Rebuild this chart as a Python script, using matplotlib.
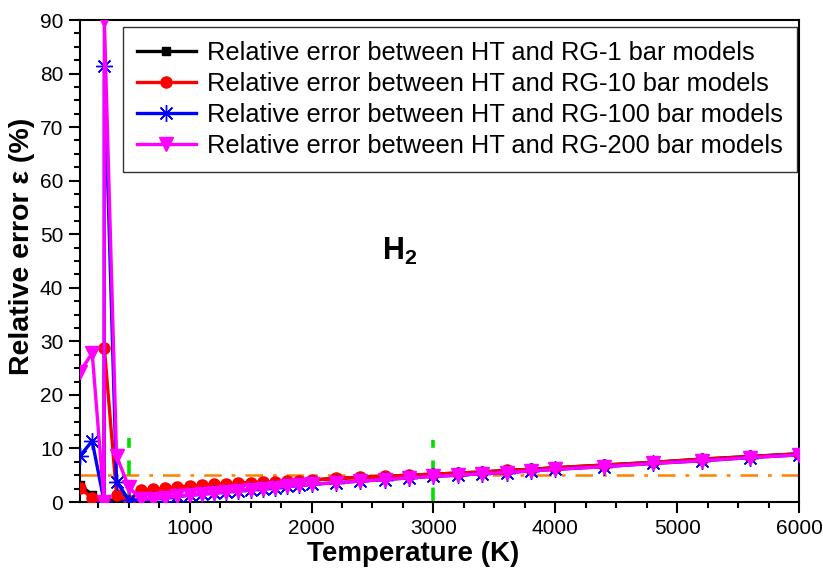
import matplotlib
matplotlib.use("Agg")
import matplotlib.pyplot as plt
from matplotlib.ticker import MultipleLocator, FixedLocator

plt.rcParams['font.family'] = ['Liberation Sans', 'DejaVu Sans']
plt.rcParams['mathtext.fontset'] = 'custom'
plt.rcParams['mathtext.rm'] = 'Liberation Sans'
plt.rcParams['mathtext.bf'] = 'Liberation Sans:bold'

# ---- data ----
temperature = [100, 200, 298.15, 300, 400, 500, 600, 700, 800, 900, 1000, 1100, 1200,
               1300, 1400, 1500, 1600, 1700, 1800, 1900, 2000, 2200, 2400, 2600, 2800,
               3000, 3200, 3400, 3600, 3800, 4000, 4400, 4800, 5200, 5600, 6000]

err_rg1 = [3.2, 1.3, 0.0, 0.2, 0.5, 0.3, 2.1, 2.3, 2.5, 2.7, 2.9, 3.1, 3.2, 3.4, 3.5,
           3.6, 3.7, 3.8, 3.9, 4.0, 4.1, 4.4, 4.6, 4.8, 5.0, 5.2, 5.4, 5.6, 5.9, 6.1,
           6.4, 6.9, 7.4, 8.0, 8.5, 9.0]
err_rg10 = [2.6, 0.7, 0.0, 28.7, 1.3, 0.2, 2.2, 2.4, 2.6, 2.8, 3.0, 3.1, 3.3, 3.4, 3.5,
            3.6, 3.7, 3.8, 3.9, 4.0, 4.1, 4.4, 4.6, 4.8, 5.0, 5.2, 5.4, 5.6, 5.9, 6.1,
            6.4, 6.9, 7.4, 8.0, 8.5, 9.0]
err_rg100 = [8.6, 11.4, 0.0, 81.5, 3.8, 0.4, 0.4, 0.6, 0.8, 1.1, 1.3, 1.5, 1.7, 1.9, 2.1,
             2.3, 2.5, 2.7, 2.9, 3.1, 3.3, 3.6, 3.9, 4.2, 4.5, 4.8, 5.0, 5.3, 5.5, 5.8,
             6.1, 6.6, 7.2, 7.7, 8.3, 8.8]
err_rg200 = [24.3, 27.8, 0.0, 90.0, 8.6, 2.8, 0.5, 0.6, 0.8, 1.1, 1.3, 1.5, 1.7, 1.9, 2.1,
             2.3, 2.5, 2.7, 2.9, 3.1, 3.3, 3.6, 3.9, 4.2, 4.5, 4.8, 5.0, 5.3, 5.5, 5.8,
             6.1, 6.6, 7.2, 7.7, 8.3, 8.8]

labels = ["Relative error between HT and RG-1 bar models",
          "Relative error between HT and RG-10 bar models",
          "Relative error between HT and RG-100 bar models",
          "Relative error between HT and RG-200 bar models"]

threshold = 5.0
vline_T = [500, 3000]
vline_top = [12.0, 11.5]

x_ticks = [1000, 2000, 3000, 4000, 5000, 6000]
y_ticks = [0, 10, 20, 30, 40, 50, 60, 70, 80, 90]

# ---- figure ----
fig = plt.figure(figsize=(8.23, 5.74), dpi=100)
ax = fig.add_axes([80/823, 1-502/574, (799-80)/823, (502-20)/574])

lw = 2.4
ax.plot(temperature, err_rg1, color='black', lw=lw, marker='s', ms=6, label=labels[0], zorder=3)
ax.plot(temperature, err_rg10, color='red', lw=lw, marker='o', ms=8, label=labels[1], zorder=4)
ax.plot(temperature, err_rg100, color='blue', lw=lw, marker=(8, 2, 0), ms=12, mew=1.0,
        label=labels[2], zorder=5)
ax.plot(temperature, err_rg200, color='#ff00ff', lw=lw, marker='v', ms=10, label=labels[3], zorder=6)

ax.axhline(threshold, color='#ff8000', lw=1.8, ls=(0, (7, 4, 1.5, 4)), zorder=2)
for t, top in zip(vline_T, vline_top):
    ax.plot([t, t], [0, top], color='#00e000', lw=2.6, ls=(0, (4, 3.5)), zorder=2)

ax.set_xlim(100, 6000)
ax.set_ylim(0, 90)
ax.xaxis.set_major_locator(FixedLocator(x_ticks))
ax.xaxis.set_minor_locator(MultipleLocator(250))
ax.yaxis.set_major_locator(FixedLocator(y_ticks))
ax.yaxis.set_minor_locator(MultipleLocator(2.5))
ax.tick_params(which='major', direction='out', length=8, width=1.5, labelsize=15, pad=4)
ax.tick_params(which='minor', direction='out', length=4.5, width=1.5)
for s in ax.spines.values():
    s.set_linewidth(1.5)

ax.set_xlabel('Temperature (K)', fontsize=20, fontweight='bold')
ax.xaxis.set_label_coords(0.463, -0.08)
ax.set_ylabel('Relative error ε (%)', fontsize=20.5, fontweight='bold')
ax.yaxis.set_label_coords(-0.062, 0.53)

ax.text(0.445, 0.52, r'$\mathbf{H_2}$', fontsize=22, ha='center', va='center',
        transform=ax.transAxes)

leg = ax.legend(loc='upper right', bbox_to_anchor=(0.997, 0.986), borderaxespad=0.0,
                fontsize=18.3, frameon=True, fancybox=False,
                edgecolor='black', handlelength=2.3, labelspacing=0.28,
                handletextpad=0.45, borderpad=0.55)
leg.get_frame().set_linewidth(1.0)

fig.savefig('out.png', dpi=100)
